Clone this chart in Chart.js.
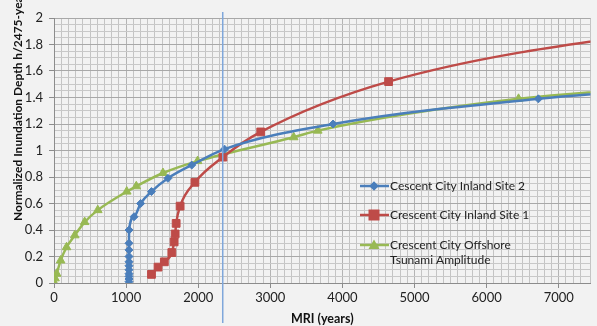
<!DOCTYPE html>
<html><head><meta charset="utf-8">
<script src="https://cdn.jsdelivr.net/npm/chart.js@4.4.1/dist/chart.umd.min.js"></script>
<style>html,body{margin:0;padding:0;background:#f2f2f2;overflow:hidden}</style>
</head><body>
<canvas id="c" width="597" height="326"></canvas>
<script>
// ---- data ----
const seriesNames = ["Cescent City Inland Site 2", "Crescent City Inland Site 1", "Crescent City Offshore Tsunami Amplitude"];
const site2X = [1040,1040,1040,1040,1040,1040,1040,1040,1040,1040,1041,1110,1201,1352,1580,1910,2365,3870,6717,10000];
const site2Y = [0.01,0.03,0.05,0.07,0.10,0.13,0.16,0.20,0.25,0.30,0.40,0.50,0.60,0.69,0.79,0.89,1.01,1.20,1.39,1.52];
const site1X = [1352,1443,1530,1634,1666,1680,1694,1749,1954,2342,2867,4640,9900];
const site1Y = [0.065,0.12,0.16,0.23,0.31,0.37,0.45,0.58,0.76,0.95,1.14,1.52,2.02];
const offX = [5,14,37,92,174,288,425,607,1009,1141,1511,1991,3324,3658,6442,10000];
const offY = [0.0,0.035,0.07,0.17,0.27,0.36,0.46,0.55,0.69,0.73,0.83,0.92,1.10,1.15,1.39,1.53];
const xTickStep = 100, xLabelStep = 1000, xMin = 0, xMax = 7440;
const yTickStep = 0.05, yLabelStep = 0.2, yMin = 0, yMax = 2;
const markerLineX = 2340;
const yTitle = "Normalized Inundation Depth h/2475-year";
const xTitle = "MRI (years)";

const colors = ["#4A7EBB", "#BE4B48", "#98B954"];
const styles = ["rectRot", "rect", "triangle"];
const radii = [4, 5.5, 5];
const FONT = "Lato";

function pts(xs, ys){ return xs.map((x,i)=>({x:x, y:ys[i]})); }
const dataSets = [[site2X,site2Y],[site1X,site1Y],[offX,offY]].map((d,i)=>({
  label: seriesNames[i],
  data: pts(d[0], d[1]),
  borderColor: colors[i], backgroundColor: colors[i],
  borderWidth: 2.5, pointStyle: styles[i], pointRadius: radii[i],
  pointBorderWidth: 1, pointBorderColor: colors[i],
  showLine: true, cubicInterpolationMode: 'monotone'
}));

const isMult = (v, step) => Math.abs(v/step - Math.round(v/step)) < 1e-6;

const extras = {
  id: 'extras',
  afterDatasetsDraw(chart){
    const ctx = chart.ctx, xs = chart.scales.x;
    // vertical reference line
    const px = xs.getPixelForValue(markerLineX);
    ctx.save();
    ctx.strokeStyle = "#7FA7DB"; ctx.lineWidth = 1.5;
    ctx.beginPath(); ctx.moveTo(px, 12); ctx.lineTo(px, 323); ctx.stroke();
    // legend
    const items = [{y:186, lines:[seriesNames[0]]},{y:215, lines:[seriesNames[1]]},{y:245, lines:["Crescent City Offshore","Tsunami Amplitude"]}];
    ctx.font = "12px " + FONT; ctx.textBaseline = "middle"; ctx.textAlign = "left";
    items.forEach((it,i)=>{
      ctx.strokeStyle = colors[i]; ctx.fillStyle = colors[i]; ctx.lineWidth = 2.5;
      ctx.beginPath(); ctx.moveTo(360, it.y); ctx.lineTo(389, it.y); ctx.stroke();
      const cx = 374, cy = it.y, r = radii[i];
      ctx.beginPath();
      if (i===0){ ctx.moveTo(cx, cy-r*1.2); ctx.lineTo(cx+r*1.2, cy); ctx.lineTo(cx, cy+r*1.2); ctx.lineTo(cx-r*1.2, cy); }
      else if (i===1){ ctx.rect(cx-r, cy-r, 2*r, 2*r); }
      else { ctx.moveTo(cx, cy-r*1.1); ctx.lineTo(cx+r*1.1, cy+r*0.8); ctx.lineTo(cx-r*1.1, cy+r*0.8); }
      ctx.closePath(); ctx.fill();
      ctx.fillStyle = "#222";
      it.lines.forEach((t,k)=>ctx.fillText(t, 390, it.y + k*15));
    });
    // y title
    ctx.translate(22, 221); ctx.rotate(-Math.PI/2);
    ctx.font = "bold 12px " + FONT; ctx.fillStyle = "#111"; ctx.textAlign = "left"; ctx.textBaseline = "alphabetic";
    ctx.fillText(yTitle, 0, 0);
    ctx.restore();
  }
};

new Chart(document.getElementById('c'), {
  type: 'scatter',
  data: { datasets: dataSets },
  options: {
    responsive: false, animation: false,
    layout: { padding: { top: 18, right: 0, left: 0, bottom: 0 } },
    plugins: { legend: { display: false }, tooltip: { enabled: false } },
    scales: {
      x: {
        type: 'linear', min: xMin, max: xMax,
        afterFit(s){ s.height = 43; },
        border: { color: '#8c8c8c', width: 1 },
        grid: {
          color: c => isMult(c.tick.value, xLabelStep) ? '#b4b4b4' : '#c4c4c4',
          tickColor: c => isMult(c.tick.value, xLabelStep) ? '#8c8c8c' : 'rgba(0,0,0,0)',
          tickLength: 5, lineWidth: 1
        },
        ticks: {
          stepSize: xTickStep, autoSkip: false, maxRotation: 0, maxTicksLimit: 200,
          padding: 2, color: '#222', font: { family: FONT, size: 13 },
          callback: v => isMult(v, xLabelStep) ? String(Math.round(v)) : ''
        },
        title: { display: true, text: xTitle, color: '#111', font: { family: FONT, size: 12.5, weight: 'bold' }, padding: { top: 0, bottom: 0 } }
      },
      y: {
        type: 'linear', min: yMin, max: yMax,
        afterFit(s){ s.width = 54; },
        border: { color: '#8c8c8c', width: 1 },
        grid: {
          color: c => isMult(c.tick.value, yLabelStep) ? '#a8a8a8' : '#c8c8c8',
          tickColor: c => isMult(c.tick.value, yLabelStep) ? '#8c8c8c' : 'rgba(0,0,0,0)',
          tickLength: 5, lineWidth: 1
        },
        ticks: {
          stepSize: yTickStep, autoSkip: false, maxTicksLimit: 200,
          padding: 6, color: '#222', font: { family: FONT, size: 13 },
          callback: v => isMult(v, yLabelStep) ? String(Math.round(v*10)/10) : ''
        }
      }
    }
  },
  plugins: [extras]
});
</script>
</body></html>
